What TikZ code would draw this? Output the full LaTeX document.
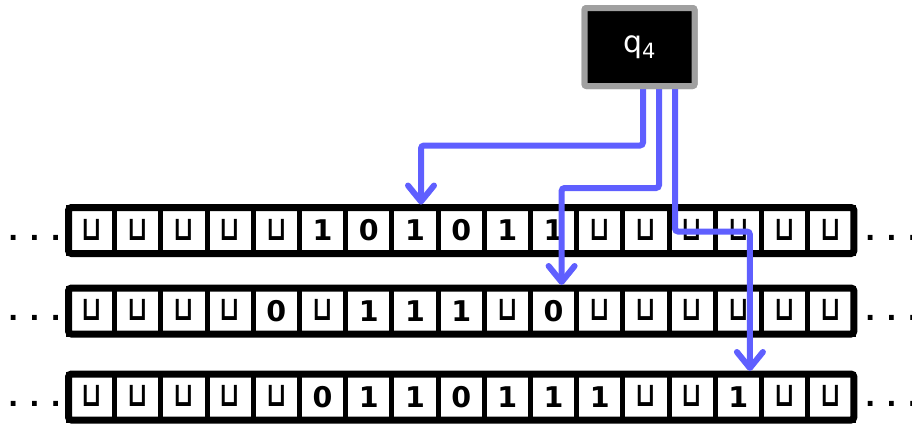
\documentclass[tikz,border=0pt]{standalone}
\usepackage{fontspec}
\setmainfont{DejaVu Sans}
\usetikzlibrary{arrows.meta,calc}
\definecolor{arrowblue}{RGB}{95,95,255}
\definecolor{headgray}{RGB}{160,160,160}
\newcommand\blanksym{\raisebox{0.5pt}{\scalebox{1.15}[1.5]{\fontsize{22.5}{22.5}\selectfont\bfseries ⊔}}}
\newcommand\tapedots{.\kern 11pt.\kern 11pt.}
\newcommand\drawtape[3]{%
  \foreach \s [count=\i from 0] in {#3} {\node[cell] (#1c\i) at ({91.6+46.2*\i},#2) {\s};}
  \draw[tapeframe] (#1c0.north west) rectangle (#1c16.south east);
}
\begin{document}
\begin{tikzpicture}[x=1pt,y=-1pt,
  cell/.style={draw=black, fill=white, line width=5pt, minimum width=46.2pt, minimum height=46pt,
    inner sep=0pt, outer sep=0pt, font=\fontsize{28.5}{28.5}\selectfont\bfseries, text height=20.8pt, text depth=0pt},
  tapeframe/.style={draw=black, line width=7pt, rounded corners=3pt},
  dotsnode/.style={font=\fontsize{27}{27}\selectfont\bfseries, inner sep=0pt, anchor=base west},
  headbox/.style={fill=black, draw=headgray, line width=6pt, rounded corners=2pt,
    minimum width=110pt, minimum height=78pt, text=white, font=\fontsize{30}{30}\selectfont},
  move/.style={draw=arrowblue, line width=6pt, rounded corners=3pt, line cap=round,
    -{Straight Barb[length=16pt,width=26pt,line cap=round,line join=round]}}
]
\useasboundingbox (0,0) rectangle (912,424);

\drawtape{r1}{230.5}{\blanksym,\blanksym,\blanksym,\blanksym,\blanksym,1,0,1,0,1,1,\blanksym,\blanksym,\blanksym,\blanksym,\blanksym,\blanksym}
\drawtape{r2}{311}{\blanksym,\blanksym,\blanksym,\blanksym,0,\blanksym,1,1,1,\blanksym,0,\blanksym,\blanksym,\blanksym,\blanksym,\blanksym,\blanksym}
\drawtape{r3}{397}{\blanksym,\blanksym,\blanksym,\blanksym,\blanksym,0,1,1,0,1,1,1,\blanksym,\blanksym,1,\blanksym,\blanksym}

\node[dotsnode] (l1) at (8,240.4) {\tapedots};
\node[dotsnode] (rt1) at (865,240.4) {\tapedots};
\node[dotsnode] (l2) at (8,320.9) {\tapedots};
\node[dotsnode] (rt2) at (865,320.9) {\tapedots};
\node[dotsnode] (l3) at (8,406.9) {\tapedots};
\node[dotsnode] (rt3) at (865,406.9) {\tapedots};

\node[headbox] (head) at (639.5,47) {};
\coordinate (a1) at ([xshift=3.5pt]head.center);
\coordinate (a2) at ([xshift=19.5pt]head.center);
\coordinate (a3) at ([xshift=35.5pt]head.center);
\coordinate (t1) at ([xshift=6pt,yshift=3pt]r1c7.north);
\coordinate (t2) at ([xshift=8pt,yshift=3pt]r2c10.north);
\coordinate (t3) at ([xshift=11.5pt,yshift=3pt]r3c14.north);
\coordinate (m1) at (0,145.5);
\coordinate (m2) at (0,188);
\coordinate (m3) at (0,231.5);
\draw[move] (a1) |- (t1 |- m1) -- (t1);
\draw[move] (a2) |- (t2 |- m2) -- (t2);
\draw[move] (a3) |- (t3 |- m3) -- (t3);
\node[headbox] (headtop) at (head) {q\textsubscript{\fontsize{21}{21}\selectfont 4}};
\end{tikzpicture}
\end{document}
